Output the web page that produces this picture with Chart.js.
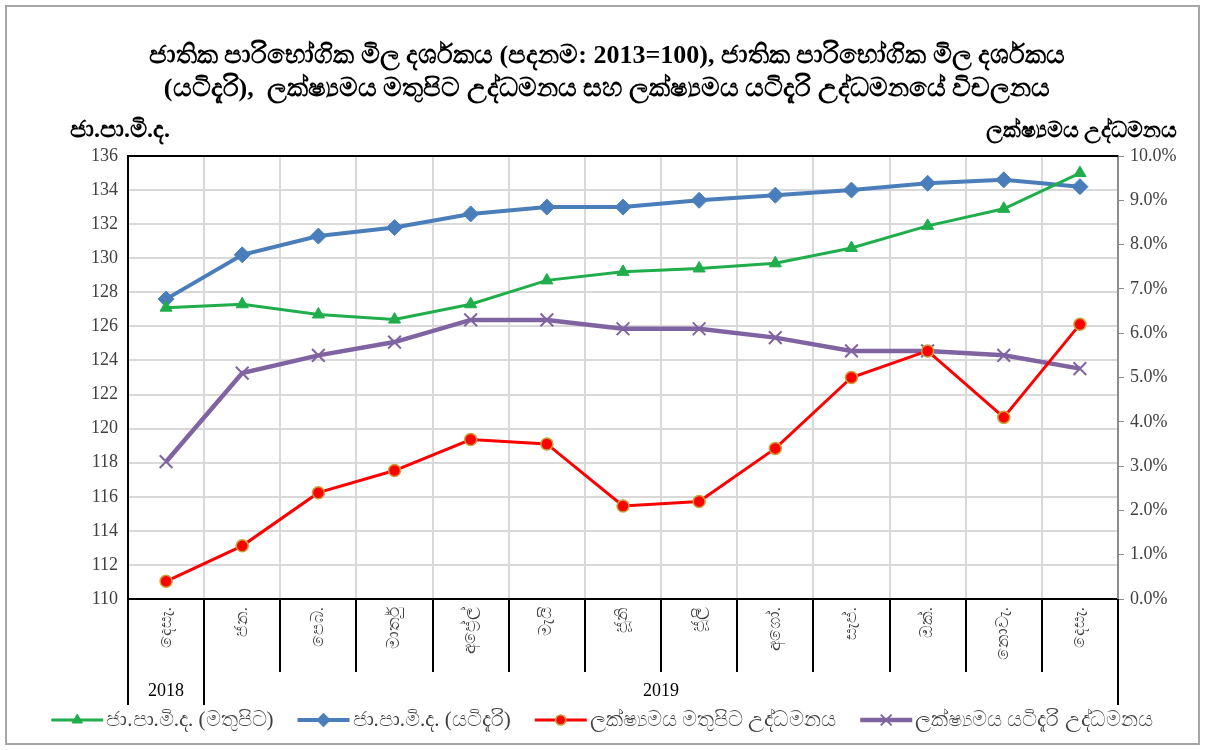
<!DOCTYPE html>
<html lang="si">
<head>
    <meta charset="UTF-8">
    <title>ජා.පා.මි.ද. සහ උද්ධමනය</title>
    <script src="https://cdn.jsdelivr.net/npm/chart.js"></script>
    <style>
        html, body {
            margin: 0;
            padding: 0;
            background: #ffffff;
        }
        .chart-box {
            width: 1206px;
            height: 750px;
            position: relative;
        }
    </style>
</head>
<body>
    <div class="chart-box">
        <canvas id="cpiChart" width="1206" height="750"></canvas>
    </div>

    <script>
        // months (Dec 2018 - Dec 2019)
        const months = ['දෙසැ.', 'ජන.', 'පෙබ.', 'මාර්තු', 'අප්‍රේල්', 'මැයි', 'ජූනි', 'ජූලි', 'අගෝ.', 'සැප්.', 'ඔක්.', 'නොවැ.', 'දෙසැ.'];
        const years = ['2018', '2019'];

        // index values (left axis)
        const ccpiHeadline = [127.1, 127.3, 126.7, 126.4, 127.3, 128.7, 129.2, 129.4, 129.7, 130.6, 131.9, 132.9, 135.0];
        const ccpiCore = [127.6, 130.2, 131.3, 131.8, 132.6, 133.0, 133.0, 133.4, 133.7, 134.0, 134.4, 134.6, 134.2];

        // inflation % (right axis)
        const headlineInflation = [0.4, 1.2, 2.4, 2.9, 3.6, 3.5, 2.1, 2.2, 3.4, 5.0, 5.6, 4.1, 6.2];
        const coreInflation = [3.1, 5.1, 5.5, 5.8, 6.3, 6.3, 6.1, 6.1, 5.9, 5.6, 5.6, 5.5, 5.2];

        const titleLines = [
            'ජාතික පාරිභෝගික මිල දර්ශකය (පදනම: 2013=100), ජාතික පාරිභෝගික මිල දර්ශකය',
            '(යටිදැරි),  ලක්ෂ්‍යමය මතුපිට උද්ධමනය සහ ලක්ෂ්‍යමය යටිදැරි උද්ධමනයේ විචලනය'
        ];
        const leftTitle = 'ජා.පා.මි.ද.';
        const rightTitle = 'ලක්ෂ්‍යමය උද්ධමනය';

        const serif = "'Liberation Serif', 'Times New Roman', serif";

        // title, axis names, outer frame, two-level x axis and legend
        const decorations = {
            id: 'decorations',
            afterDraw(chart) {
                const ctx = chart.ctx;
                const area = chart.chartArea;
                const xs = chart.scales.x;
                ctx.save();

                // outer frame
                ctx.strokeStyle = '#a6a6a6';
                ctx.lineWidth = 2;
                ctx.strokeRect(6, 6, 1193, 738);

                // title
                ctx.fillStyle = '#000';
                ctx.textAlign = 'center';
                ctx.textBaseline = 'middle';
                ctx.font = 'bold 26px ' + serif;
                ctx.fillText(titleLines[0], 607, 56);
                ctx.fillText(titleLines[1], 607, 89);

                // axis names
                ctx.font = 'bold 24px ' + serif;
                ctx.textAlign = 'left';
                ctx.fillText(leftTitle, 70, 131);
                ctx.font = 'bold 22px ' + serif;
                ctx.textAlign = 'right';
                ctx.fillText(rightTitle, 1177, 131);

                // top border of plot
                ctx.strokeStyle = '#000';
                ctx.lineWidth = 2;
                ctx.beginPath();
                ctx.moveTo(area.left, area.top);
                ctx.lineTo(area.right, area.top);
                ctx.stroke();

                // category separators below the axis
                for (let i = 0; i <= months.length; i++) {
                    const x = Math.round(xs.getPixelForValue(i - 0.5));
                    const long = (i === 0 || i === 1 || i === months.length);
                    ctx.beginPath();
                    ctx.moveTo(x, area.bottom);
                    ctx.lineTo(x, long ? 705 : 672);
                    ctx.stroke();
                }

                // year labels
                ctx.font = '18px ' + serif;
                ctx.fillStyle = '#000';
                ctx.textAlign = 'center';
                ctx.fillText(years[0], xs.getPixelForValue(0), 691);
                const mid = (xs.getPixelForValue(1) + xs.getPixelForValue(months.length - 1)) / 2;
                ctx.fillText(years[1], mid, 691);

                // legend
                ctx.font = '21px ' + serif;
                const lineLen = 52;
                const gap = 3;
                const spacing = 24;
                const items = chart.data.datasets.map(ds => ({ ds, w: lineLen + gap + ctx.measureText(ds.label).width }));
                const total = items.reduce((s, it) => s + it.w, 0) + spacing * (items.length - 1);
                let x = 602 - total / 2;
                const y = 720;
                items.forEach(it => {
                    const ds = it.ds;
                    ctx.strokeStyle = ds.borderColor;
                    ctx.lineWidth = ds.borderWidth;
                    ctx.beginPath();
                    ctx.moveTo(x, y);
                    ctx.lineTo(x + lineLen, y);
                    ctx.stroke();
                    ctx.fillStyle = ds.pointBackgroundColor;
                    ctx.strokeStyle = ds.pointBorderColor;
                    ctx.lineWidth = ds.pointBorderWidth;
                    Chart.helpers.drawPoint(ctx, {
                        pointStyle: ds.pointStyle,
                        radius: ds.pointRadius * 0.85,
                        rotation: 0,
                        borderWidth: ds.pointBorderWidth
                    }, x + lineLen / 2, y);
                    ctx.fillStyle = '#404040';
                    ctx.textAlign = 'left';
                    ctx.fillText(ds.label, x + lineLen + gap, y);
                    x += it.w + spacing;
                });

                ctx.restore();
            }
        };

        const ctx = document.getElementById('cpiChart').getContext('2d');

        new Chart(ctx, {
            type: 'line',
            data: {
                labels: months,
                datasets: [
                    {
                        label: 'ජා.පා.මි.ද. (මතුපිට)',
                        data: ccpiHeadline,
                        yAxisID: 'y',
                        borderColor: '#1fae4b',
                        borderWidth: 3,
                        pointStyle: 'triangle',
                        pointRadius: 7,
                        pointBackgroundColor: '#1fae4b',
                        pointBorderColor: '#1fae4b',
                        pointBorderWidth: 1,
                        tension: 0
                    },
                    {
                        label: 'ජා.පා.මි.ද. (යටිදැරි)',
                        data: ccpiCore,
                        yAxisID: 'y',
                        borderColor: '#4a7ebb',
                        borderWidth: 4,
                        pointStyle: 'rectRot',
                        pointRadius: 8,
                        pointBackgroundColor: '#4a7ebb',
                        pointBorderColor: '#4a7ebb',
                        pointBorderWidth: 1,
                        tension: 0
                    },
                    {
                        label: 'ලක්ෂ්‍යමය මතුපිට උද්ධමනය',
                        data: headlineInflation,
                        yAxisID: 'y1',
                        borderColor: '#ff0000',
                        borderWidth: 3,
                        pointStyle: 'circle',
                        pointRadius: 6,
                        pointBackgroundColor: '#ff0000',
                        pointBorderColor: '#c9a23a',
                        pointBorderWidth: 1.5,
                        tension: 0
                    },
                    {
                        label: 'ලක්ෂ්‍යමය යටිදැරි උද්ධමනය',
                        data: coreInflation,
                        yAxisID: 'y1',
                        borderColor: '#8064a2',
                        borderWidth: 4.5,
                        pointStyle: 'crossRot',
                        pointRadius: 9,
                        pointBackgroundColor: '#8064a2',
                        pointBorderColor: '#8064a2',
                        pointBorderWidth: 2,
                        tension: 0
                    }
                ]
            },
            options: {
                responsive: false,
                animation: false,
                layout: {
                    padding: { top: 156, bottom: 45, left: 0, right: 0 }
                },
                plugins: {
                    legend: { display: false },
                    title: { display: false },
                    tooltip: { enabled: false }
                },
                scales: {
                    x: {
                        offset: true,
                        grid: {
                            offset: true,
                            color: '#d9d9d9',
                            lineWidth: 2,
                            drawTicks: false
                        },
                        border: { color: '#000', width: 2 },
                        ticks: {
                            minRotation: 90,
                            maxRotation: 90,
                            padding: 8,
                            color: '#404040',
                            font: { family: serif, size: 17 }
                        },
                        afterFit(scale) { scale.height = 106; }
                    },
                    y: {
                        position: 'left',
                        min: 110,
                        max: 136,
                        ticks: {
                            stepSize: 2,
                            padding: 10,
                            color: '#404040',
                            font: { family: serif, size: 18 }
                        },
                        grid: {
                            color: '#d9d9d9',
                            lineWidth: 2,
                            drawTicks: false
                        },
                        border: { color: '#000', width: 2 },
                        afterFit(scale) { scale.width = 128; }
                    },
                    y1: {
                        position: 'right',
                        min: 0,
                        max: 10,
                        ticks: {
                            stepSize: 1,
                            padding: 6,
                            color: '#404040',
                            font: { family: serif, size: 18 },
                            callback: v => v.toFixed(1) + '%'
                        },
                        grid: {
                            drawOnChartArea: false,
                            tickLength: 6,
                            tickColor: '#8c8c8c'
                        },
                        border: { color: '#8c8c8c', width: 2 },
                        afterFit(scale) { scale.width = 88; }
                    }
                }
            },
            plugins: [decorations]
        });
    </script>
</body>
</html>
